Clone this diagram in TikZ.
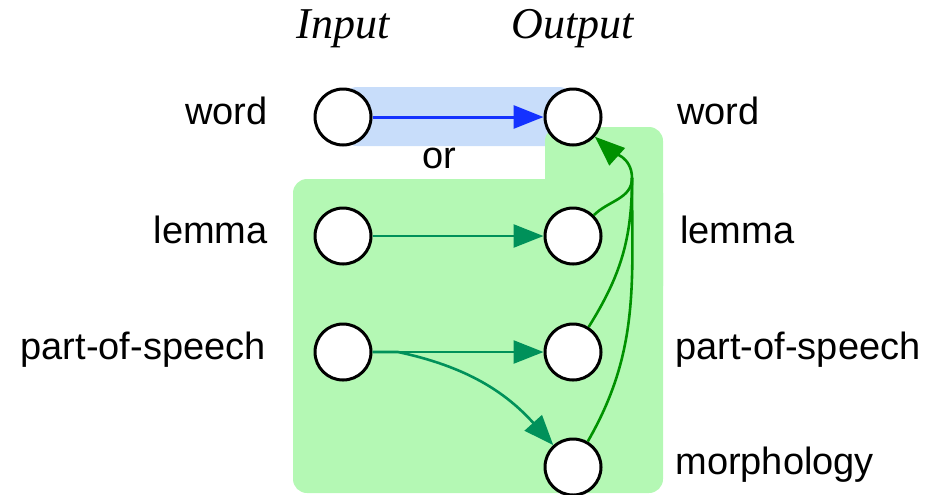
\documentclass[tikz,border=0pt]{standalone}
\usepackage{fontspec}
\setmainfont{Liberation Sans}
\newfontfamily\headfont{Liberation Serif}
\usepackage{tikz}
\usetikzlibrary{arrows.meta}

\definecolor{BlueFill}{RGB}{200,221,250}
\definecolor{GreenFill}{RGB}{180,248,180}
\definecolor{BlueLine}{RGB}{20,50,255}
\definecolor{TealLine}{RGB}{0,145,90}
\definecolor{DarkGreen}{RGB}{0,145,0}

\begin{document}
\begin{tikzpicture}[x=0.5pt, y=-0.5pt,
  unit/.style={draw, circle, line width=1.5pt, fill=white, minimum size=28pt, inner sep=0pt},
  lab/.style={font=\fontsize{19}{23}\selectfont, inner sep=0pt},
  head/.style={font=\headfont\itshape\fontsize{22}{26}\selectfont, inner sep=0pt, anchor=base},
  tip/.style={-{Triangle[length=15pt, width=11.5pt]}},
  ]
  \useasboundingbox (0,0) rectangle (925,494);

  \fill[BlueFill, rounded corners=7pt] (343,87) rectangle (573,146);
  \fill[GreenFill, rounded corners=7pt] (293,179) rectangle (663,493);
  \fill[GreenFill, rounded corners=7pt] (545,127) rectangle (663,300);

  \node[head] (input) at (343,38) {Input};
  \node[head] (output) at (573,38) {Output};

  \node[unit] (iw) at (343,117) {};
  \node[unit] (il) at (343,236) {};
  \node[unit] (ip) at (343,352) {};
  \node[unit] (ow) at (573,117) {};
  \node[unit] (ol) at (573,236) {};
  \node[unit] (op) at (573,352) {};
  \node[unit] (om) at (573,467) {};

  \node[lab, anchor=base east] (iwl) at (268,124) {word};
  \node[lab, anchor=base east] (ill) at (268,243) {lemma};
  \node[lab, anchor=base east] (ipl) at (266,359) {part-of-speech};
  \node[lab, anchor=base west] (owl) at (677,124) {word};
  \node[lab, anchor=base west] (oll) at (680,243) {lemma};
  \node[lab, anchor=base west] (opl) at (675,359) {part-of-speech};
  \node[lab, anchor=base west] (oml) at (675,474) {morphology};
  \node[lab, anchor=base] (or) at (439,168) {or};

  \draw[tip, line width=1.5pt, BlueLine] (iw) -- (ow);
  \draw[tip, line width=1.3pt, TealLine] (il) -- (ol);
  \draw[tip, line width=1.3pt, TealLine] (ip) -- (op);
  \draw[tip, line width=1.3pt, TealLine] (ip.east) -- (398,352) to[out=-12, in=132] (om);

  \coordinate (merge) at (632,178);
  \draw[line width=1.3pt, DarkGreen] (ol) to[out=45, in=-90] (merge);
  \draw[line width=1.3pt, DarkGreen] (op) to[out=58, in=-90] (merge);
  \draw[line width=1.3pt, DarkGreen] (om) to[out=60, in=-90] (merge);
  \draw[tip, line width=1.3pt, DarkGreen] (merge) to[out=90, in=-42] (ow);
\end{tikzpicture}
\end{document}
